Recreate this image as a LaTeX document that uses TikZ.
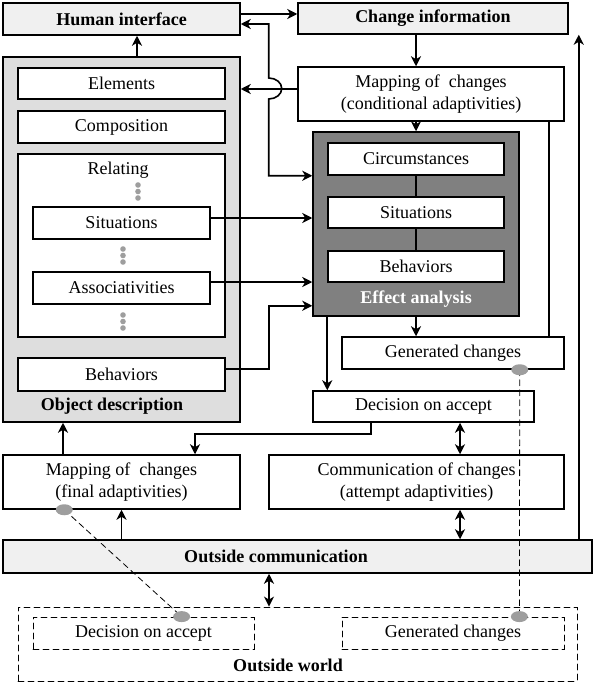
\documentclass[tikz,border=0pt]{standalone}
\usepackage{fontspec}
\setmainfont{Liberation Serif}
\usetikzlibrary{arrows.meta,shapes.geometric}

\newcommand{\bigtxt}{\rmfamily\fontsize{18}{22}\selectfont}

\tikzset{
  box/.style={draw, line width=1.5pt, fill=white, inner sep=0pt, align=center},
  headbox/.style={box, fill=black!6, font=\bigtxt\bfseries},
  boldtxt/.style={font=\bigtxt\bfseries},
  wbox/.style={draw, line width=0.8pt, dash pattern=on 6pt off 4pt, inner sep=0pt, align=center},
  conn/.style={line width=1.6pt, -{Stealth[length=10pt,width=10pt,inset=3pt]}},
  dconn/.style={line width=1.6pt, {Stealth[length=10pt,width=10pt,inset=3pt]}-{Stealth[length=10pt,width=10pt,inset=3pt]}},
  gdot/.style={ellipse, fill=black!38, minimum width=17pt, minimum height=11pt, inner sep=0pt},
}

\begin{document}
\begin{tikzpicture}[x=1pt, y=-1pt, font=\bigtxt, line cap=round]
\useasboundingbox (0,0) rectangle (593,685);

% --- cabeceras ---
\node[headbox, minimum width=237pt, minimum height=32pt] (hum) at (121.5,19) {Human interface};
\node[headbox, minimum width=270pt, minimum height=31pt] (chg) at (433,18.5) {Change information};
\node[box, minimum width=266pt, minimum height=54pt] (mapc) at (431,94)
  {Mapping of\enspace changes\\(conditional adaptivities)};

% --- descripcion del objeto ---
\node[box, fill=black!13, minimum width=237pt, minimum height=365pt] (obj) at (121.5,239.5) {};
\node[box, minimum width=207pt, minimum height=31pt] (elem) at (121.5,83.5) {Elements};
\node[box, minimum width=207pt, minimum height=32pt] (comp) at (121.5,127) {Composition};
\node[box, minimum width=207pt, minimum height=183pt] (rel) at (121.5,245.5) {};
\node (reltxt) at (118,170) {Relating};
\node[box, minimum width=177pt, minimum height=32pt] (sitA) at (121.5,223) {Situations};
\node[box, minimum width=177pt, minimum height=32pt] (assoc) at (121.5,288) {Associativities};
\node[box, minimum width=207pt, minimum height=33pt] (behA) at (121.5,374.5) {Behaviors};
\node[boldtxt] (objtxt) at (112,406) {Object description};
% puntos
\foreach \y in {185,191.5,198} \fill[black!38] (138,\y) circle (2.8pt);
\foreach \y in {249,255.5,262, 315,321.5,328} \fill[black!38] (123,\y) circle (2.8pt);

% --- analisis de efectos ---
\node[box, fill=black!50, minimum width=206pt, minimum height=184pt] (eff) at (416,224) {};
\node[box, minimum width=176pt, minimum height=32pt] (circ) at (416,159) {Circumstances};
\node[box, minimum width=176pt, minimum height=31pt] (sitB) at (416,212.5) {Situations};
\node[box, minimum width=176pt, minimum height=31pt] (behB) at (416,266.5) {Behaviors};
\node[boldtxt, white] (efftxt) at (416,299) {Effect analysis};
\draw[line width=1.5pt] (circ) -- (sitB) (sitB) -- (behB);

\node[box, minimum width=222pt, minimum height=32pt] (gen) at (453,353) {Generated changes};
\node[box, minimum width=221pt, minimum height=31pt] (dec) at (423.5,406.5) {Decision on accept};

% --- parte baja ---
\node[box, minimum width=237pt, minimum height=54pt] (mapf) at (121.5,482)
  {Mapping of\enspace changes\\(final adaptivities)};
\node[box, minimum width=295pt, minimum height=54pt] (com) at (416.5,482)
  {Communication of changes\\(attempt adaptivities)};
\node[headbox, minimum width=589pt, minimum height=33pt] (out) at (297.5,556.5) {};
\node[boldtxt] (outtxt) at (276,556.5) {Outside communication};

% --- mundo exterior ---
\node[wbox, minimum width=559pt, minimum height=74pt] (world) at (297.5,644) {};
\node[wbox, minimum width=221pt, minimum height=32pt] (decw) at (143.5,633) {Decision on accept};
\node[wbox, minimum width=222pt, minimum height=32pt] (genw) at (453,633) {Generated changes};
\node[boldtxt] (worldtxt) at (288,665) {Outside world};

% --- conexiones ---
\draw[conn] ([yshift=5pt]hum.east) -- ([yshift=5pt]hum.east -| chg.west);
\draw[dconn] ([yshift=-5pt]hum.east) -- ++(28,0) -- ++(0,54)
  arc[start angle=90, end angle=-90, x radius=13pt, y radius=10.5pt]
  |- (eff.west |- circ.south);
\draw[conn] ([yshift=5pt]mapc.west) -- ([yshift=5pt]mapc.west -| obj.east);
\draw[conn] (eff.north |- chg.south) -- (eff.north |- mapc.north);
\draw[conn] (eff.north |- mapc.south) -- (eff.north);
\draw[line width=1.6pt] ([xshift=-16pt]gen.north east) -- ([xshift=-16pt]gen.north east |- mapc.south);
\draw[conn] ([xshift=-14pt]out.north east) -- ([xshift=-14pt]out.north east |- chg.south);
\draw[conn] ([xshift=15.5pt]obj.north) -- ([xshift=15.5pt]hum.south);

\draw[conn] ([yshift=5pt]sitA.east) -- ([yshift=5pt]sitA.east -| eff.west);
\draw[conn] ([yshift=6pt]assoc.east) -- ([yshift=6pt]assoc.east -| eff.west);
\draw[conn] ([yshift=5.5pt]behA.east) -- ++(43,0) |- ([yshift=11pt]eff.south west);

\draw[conn] (eff.south) -- (eff.south |- gen.north);
\draw[conn] ([xshift=15pt]eff.south west) -- ([xshift=15pt]eff.south west |- dec.north);
\draw[conn] ([xshift=59pt]dec.south west) -- ++(0,11) -| ([xshift=73.5pt]mapf.north);
\draw[dconn] ([xshift=36.5pt]dec.south) -- ([xshift=36.5pt]dec.south |- com.north);
\draw[conn] ([xshift=-58.5pt]mapf.north) -- ([xshift=-58.5pt]mapf.north |- obj.south);
\draw[conn] (mapf.south |- out.north) -- (mapf.south);
\draw[dconn] ([xshift=43.5pt]com.south) -- ([xshift=43.5pt]com.south |- out.north);
\draw[dconn] ([xshift=-28.5pt]out.south) -- ([xshift=-28.5pt]out.south |- world.north);

% --- enlaces punteados ---
\draw[line width=0.8pt, dash pattern=on 6pt off 4pt] ([xshift=-45pt]gen.south east) -- ([xshift=-45pt]genw.north east);
\draw[line width=0.8pt, dash pattern=on 6pt off 4pt] ([xshift=62pt]mapf.south west) -- ([xshift=149pt]decw.north west);
\node[gdot] (gendot) at ([xshift=-45pt]gen.south east) {};
\node[gdot] (genwdot) at ([xshift=-45pt]genw.north east) {};
\node[gdot] (mapfdot) at ([xshift=62pt]mapf.south west) {};
\node[gdot] (decwdot) at ([xshift=149pt]decw.north west) {};

\end{tikzpicture}
\end{document}
